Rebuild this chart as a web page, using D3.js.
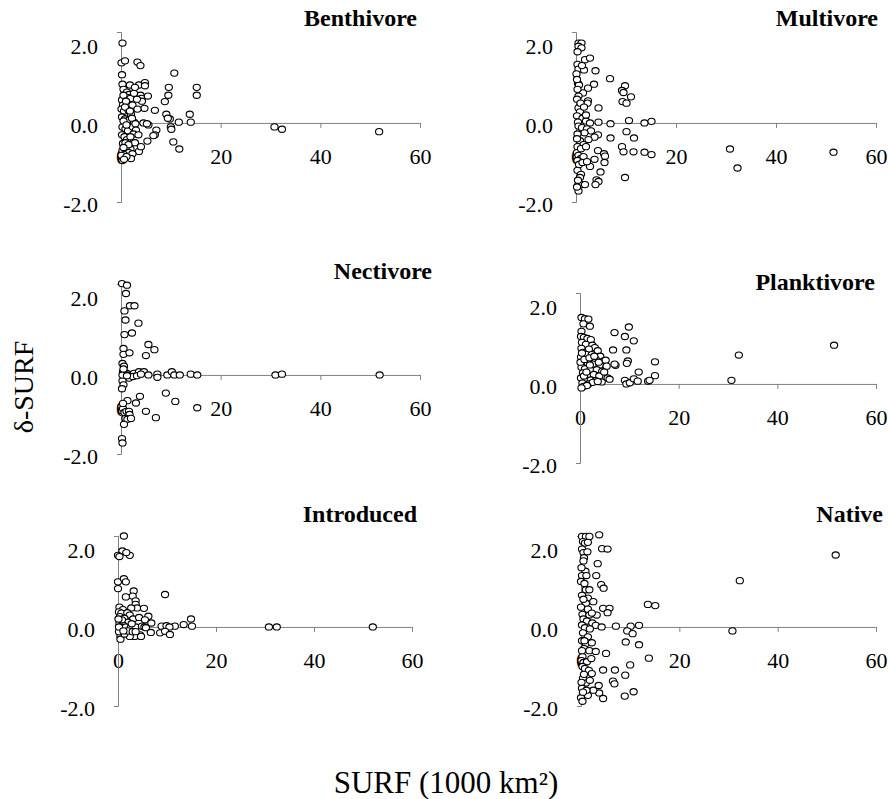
<!DOCTYPE html>
<html>
<head>
<meta charset="utf-8">
<script src="https://cdn.jsdelivr.net/npm/d3@7"></script>
<style>
  body { margin: 0; background: #fff; }
  text { font-family: "Liberation Serif", "Times New Roman", serif; }
</style>
</head>
<body>
<script>
var width = 888,
    height = 799;

var titles = ["Benthivore", "Multivore", "Nectivore", "Planktivore", "Introduced", "Native"];
var xTicks = [0, 20, 40, 60];
var yTicks = [-2, 0, 2];

// [SURF, delta-SURF]
var benthivore = [[0.3,2.02],[0.1,1.52],[0.8,1.57],[3.3,1.54],[3.9,1.45],[0.2,1.22],[10.7,1.26],
  [0.3,0.98],[1.8,0.96],[3.6,0.96],[4.8,1.02],[4.8,0.94],[9.6,0.9],[15.2,0.9],[15.2,0.7],[9.5,0.7],
  [0.5,0.85],[1.2,0.78],[1.6,0.72],[1.5,0.64],[1.9,0.62],[3.9,0.7],[4.1,0.62],[5.4,0.68],[4.2,0.55],[3.2,0.6],
  [8.8,0.54],[0.2,0.58],[0.4,0.45],[1.4,0.48],[2.3,0.45],[0.1,0.35],[0.6,0.3],[1.5,0.32],[2.0,0.22],
  [6.8,0.32],[4.7,0.37],[9.1,0.22],[13.8,0.22],[9.8,0.1],[9.4,0.12],[11.6,0.02],[14.0,0.02],
  [0.2,0.15],[0.8,0.1],[1.7,0.08],[2.6,0.02],[4.5,0.0],[5.5,-0.05],[5.2,-0.02],
  [10.0,-0.1],[10.1,-0.16],[7.1,-0.18],[6.8,-0.3],[6.5,-0.32],[5.3,-0.46],[10.5,-0.48],[11.7,-0.66],
  [2.8,-0.5],[3.6,-0.72],[1.9,-0.66],[0.3,-0.1],[0.9,-0.15],[1.4,-0.2],[2.4,-0.1],[3.0,-0.18],[2.5,-0.28],
  [0.2,-0.3],[0.7,-0.35],[1.2,-0.42],[0.4,-0.52],[1.0,-0.6],[0.3,-0.7],[1.6,-0.75],[0.6,-0.8],
  [0.2,-0.88],[0.3,-0.95],[0.1,-0.82],[2.3,-0.78],
  [0.5,0.7],[1.0,0.55],[0.8,0.4],[1.8,0.3],[2.2,0.12],[0.5,0.05],[1.1,-0.05],[1.9,-0.35],[0.9,-0.5],
  [1.5,-0.55],[0.5,-0.62],[2.0,-0.9],[1.1,-0.85],[0.6,-0.92],[2.6,0.75],[2.8,0.9],[3.3,0.35],[2.9,-0.02],
  [3.5,-0.3],[4.0,-0.6],
  [30.8,-0.1],[32.3,-0.16],[51.8,-0.22]];

var multivore = [[0.5,2.02],[1.1,2.02],[0.5,1.94],[1.1,1.9],[0.3,1.8],[1.8,1.6],[2.8,1.64],[0.3,1.48],
  [0.5,1.36],[1.6,1.34],[3.9,1.32],[6.8,1.12],[0.1,1.24],
  [0.4,1.0],[0.6,0.96],[3.6,0.98],[9.8,0.94],[9.2,0.82],[9.5,0.77],[11.0,0.66],[2.4,0.88],[1.4,0.76],
  [0.5,0.68],[2.4,0.56],[2.3,0.5],[9.3,0.54],[10.1,0.5],
  [0.5,0.38],[4.5,0.38],[0.8,0.28],[0.2,0.18],[1.3,0.12],[2.0,0.05],[0.4,0.02],[2.8,0.0],[4.5,0.02],
  [6.9,-0.02],[10.6,0.06],[13.7,0.0],[15.1,0.04],
  [0.5,-0.08],[1.2,-0.12],[2.2,-0.15],[3.0,-0.2],[1.7,-0.25],[0.3,-0.28],[4.4,-0.3],[6.9,-0.38],
  [10.1,-0.22],[11.6,-0.38],[3.7,-0.36],[2.5,-0.42],[0.8,-0.45],[1.5,-0.55],[0.3,-0.6],
  [9.2,-0.6],[9.5,-0.73],[11.5,-0.73],[13.7,-0.74],[15.1,-0.8],[4.4,-0.7],[5.6,-0.78],[5.8,-0.84],
  [5.7,-1.0],[3.7,-0.92],[2.8,-1.1],[4.9,-1.24],[4.1,-1.44],[4.5,-1.48],[3.9,-1.56],[9.8,-1.38],
  [0.2,-0.75],[0.5,-0.82],[1.0,-0.9],[0.3,-0.95],[1.5,-0.85],[0.6,-1.05],[0.3,-1.2],[1.0,-1.3],
  [0.8,-1.38],[0.5,-1.56],[1.1,-1.56],[1.8,-1.56],[0.5,-1.72],[0.2,-1.62],
  [0.2,0.6],[0.9,0.5],[0.3,0.85],[1.6,0.4],[0.2,-0.4],[1.0,-0.65],[2.0,-0.6],[0.4,-1.45],[0.2,1.1],
  [1.2,1.45],[2.0,0.2],[1.3,-1.0],[2.2,-0.98],
  [30.8,-0.66],[32.3,-1.14],[51.5,-0.74]];

var nectivore = [[0.2,2.31],[1.2,2.27],[1.0,2.06],[1.8,1.75],[2.7,1.75],[0.7,1.62],[0.9,1.39],[3.5,1.31],
  [0.7,1.02],[2.2,1.06],[5.5,0.77],[6.7,0.64],[5.0,0.49],[0.5,0.67],[0.5,0.52],[1.7,0.56],[0.3,0.29],[0.6,0.22],
  [0.4,0.08],[1.0,0.05],[1.5,0.02],[2.0,0.0],[2.6,0.04],[3.6,0.08],[4.6,0.08],[5.5,0.0],[7.3,0.02],
  [7.3,-0.06],[9.3,0.0],[10.2,0.08],[10.7,0.0],[11.8,0.0],[14.0,0.02],[15.3,0.0],
  [0.8,-0.06],[1.6,-0.08],[2.4,-0.04],[3.2,-0.02],[4.0,0.02],[0.3,-0.15],[0.5,-0.25],[0.2,-0.35],
  [9.0,-0.46],[10.9,-0.67],[15.3,-0.83],[3.8,-0.54],[3.0,-0.71],[5.0,-0.92],[7.0,-1.08],[1.3,-0.65],
  [0.1,-0.8],[0.2,-0.9],[0.4,-0.85],[0.7,-0.95],[1.1,-0.92],[1.6,-0.92],[1.7,-1.0],[0.9,-1.1],
  [1.3,-1.12],[2.0,-1.1],[0.6,-1.25],[0.2,-1.61],[0.3,-1.72],[0.4,-0.72],
  [0.3,0.0],[1.2,-0.02],[0.5,0.15],
  [31.0,0.0],[32.3,0.02],[51.9,0.0]];

var planktivore = [[0.3,1.68],[1.0,1.65],[1.7,1.64],[0.7,1.52],[2.0,1.46],[0.3,1.33],[7.0,1.3],[9.9,1.44],
  [9.1,1.2],[10.9,1.09],[6.7,0.86],[9.4,0.86],[9.7,0.58],[9.5,0.52],[7.2,0.47],[7.0,0.5],
  [11.9,0.3],[15.2,0.56],[15.2,0.21],[9.1,0.09],[9.4,0.0],[10.1,0.03],[10.9,0.13],[11.7,0.07],[13.8,0.07],[14.1,0.09],
  [0.2,1.2],[0.8,1.18],[1.5,1.15],[2.2,1.12],[0.4,1.05],[1.2,1.0],[2.5,0.98],[3.0,0.92],[0.3,0.9],
  [1.8,0.88],[3.6,0.84],[0.6,0.8],[1.2,0.75],[2.4,0.74],[4.1,0.7],[0.2,0.68],[3.2,0.62],[4.8,0.58],[5.2,0.6],
  [0.5,0.55],[1.6,0.52],[2.6,0.5],[4.0,0.48],[5.4,0.45],[0.3,0.42],[1.0,0.38],[2.1,0.35],[3.4,0.36],
  [4.5,0.32],[0.6,0.28],[1.5,0.22],[2.8,0.24],[3.9,0.2],[5.6,0.15],[6.0,0.12],[0.2,0.15],[1.2,0.1],
  [2.2,0.1],[3.2,0.08],[4.4,0.05],[0.5,0.02],[1.7,0.0],[2.6,0.04],[3.6,0.06],[0.7,-0.06],[1.4,-0.04],[0.3,-0.1],
  [0.1,0.55],[0.9,0.62],[1.9,0.66],[2.9,0.7],[0.4,0.78],[3.8,0.55],[4.9,0.3],[0.8,0.2],[2.0,0.48],[1.3,0.3],
  [30.7,0.09],[32.2,0.73],[51.5,0.98]];

var introduced = [[1.2,2.3],[0.9,1.92],[0.0,1.81],[0.3,1.78],[2.4,1.81],[1.7,1.88],[0.0,1.14],[1.2,1.22],
  [1.6,1.14],[0.0,0.97],[3.2,0.91],[3.0,0.78],[1.6,0.76],[3.6,0.66],[3.6,0.57],[9.6,0.82],
  [3.9,0.48],[5.3,0.47],[2.7,0.48],[0.3,0.5],[1.0,0.44],[0.2,0.38],[0.7,0.35],[1.9,0.36],[2.4,0.3],
  [0.4,0.26],[1.3,0.22],[3.1,0.2],[4.3,0.24],[6.2,0.27],[5.5,0.18],[6.8,0.1],[2.0,0.12],[0.3,0.1],[1.0,0.05],
  [14.9,0.2],[13.4,0.06],[15.1,0.02],[8.9,0.02],[9.9,0.03],[11.6,0.02],[10.5,0.0],[0.5,0.0],[1.6,0.0],
  [2.6,-0.02],[3.6,0.0],[4.9,0.02],[5.4,0.0],[5.7,-0.02],
  [8.6,-0.15],[9.6,-0.11],[10.6,-0.19],[6.7,-0.14],[4.5,-0.2],[3.4,-0.24],[2.4,-0.24],[4.7,-0.24],
  [0.5,-0.24],[0.5,-0.31],[1.3,-0.18],[0.2,-0.12],[2.0,-0.1],[3.0,-0.12],
  [0.2,0.0],[1.1,-0.1],[0.8,0.18],[2.8,0.08],[3.6,-0.12],[0.1,0.2],
  [30.8,0.0],[32.4,0.0],[52.0,0.0]];

var native = [[0.2,2.29],[1.0,2.29],[1.7,2.29],[3.7,2.33],[0.4,2.16],[0.8,2.12],[1.4,2.14],[0.2,1.97],
  [0.5,1.88],[4.3,1.98],[5.4,1.97],[0.6,1.75],[0.5,1.67],[3.4,1.6],[0.9,1.41],[0.2,1.3],[1.1,1.3],
  [3.1,1.3],[0.0,1.15],[4.1,1.07],[4.6,0.98],[1.0,0.94],[1.7,0.94],
  [1.4,0.73],[1.0,0.6],[2.5,0.64],[13.6,0.57],[15.1,0.54],[0.0,0.5],[4.5,0.47],[5.8,0.47],[5.4,0.36],
  [0.3,0.32],[1.7,0.3],[3.2,0.3],[0.5,0.2],[1.2,0.15],[2.3,0.1],[3.0,0.04],[0.2,0.05],[0.8,-0.02],
  [1.8,-0.05],[4.2,0.0],[7.1,0.02],[10.1,0.02],[11.8,0.04],
  [9.4,-0.1],[10.5,-0.17],[0.4,-0.15],[1.4,-0.25],[0.2,-0.35],[1.0,-0.42],[2.2,-0.4],[0.6,-0.55],
  [1.7,-0.6],[3.0,-0.62],[9.1,-0.38],[11.8,-0.45],[5.1,-0.67],[13.8,-0.79],
  [0.3,-0.75],[0.1,-0.85],[0.5,-0.9],[1.2,-0.88],[2.1,-0.8],[0.3,-1.0],[0.8,-1.05],[1.6,-1.1],
  [10.0,-0.96],[4.5,-1.09],[6.9,-1.09],[9.0,-1.22],[6.5,-1.37],[6.8,-1.44],[2.2,-1.18],[3.6,-1.48],
  [3.7,-1.67],[4.5,-1.81],[8.9,-1.75],[10.7,-1.64],
  [0.0,-1.79],[0.3,-1.88],[1.4,-1.73],[0.4,-1.3],[1.0,-1.42],[0.2,-1.55],[2.5,-1.6],[1.8,-1.35],
  [0.2,0.8],[0.5,0.7],[0.1,1.5],[1.3,1.9],[0.2,-0.6],[0.6,-1.2],[0.1,-1.4],[1.1,-1.6],[0.7,-0.35],
  [1.4,0.45],[2.2,0.35],[0.7,1.1],[0.4,-1.65],
  [30.8,-0.1],[32.3,1.17],[51.8,1.82]];

var series = [benthivore, multivore, nectivore, planktivore, introduced, native];

// panel boxes: x of 0, x of 60, top, bottom, title x, title y
var boxes = [
  [121, 420, 32, 202, 417, 26],
  [576, 876, 32, 202, 878, 26],
  [121, 420, 284, 454, 432, 279],
  [580, 876, 293, 463, 875, 290],
  [118, 412, 536, 706, 417, 522],
  [581, 876, 536, 706, 883, 522]
];

var axisColor = '#808080';

var svg = d3.select('body')
    .append('svg')
    .attr('width', width)
    .attr('height', height);

series.forEach(function(data, i) {
  var b = boxes[i];
  var x = d3.scaleLinear().domain([0, 60]).range([b[0], b[1]]);
  var y = d3.scaleLinear().domain([-2, 2.3]).range([b[3], b[2]]);

  var g = svg.append('g').attr('class', 'panel');

  var xAxis = g.append('g')
      .attr('transform', 'translate(0,' + y(0) + ')')
      .attr('color', axisColor)
      .call(d3.axisBottom(x).tickValues(xTicks).tickSize(5).tickSizeOuter(0).tickPadding(20));
  xAxis.selectAll('text')
      .attr('fill', '#000')
      .style('font-size', '22px');

  var yAxis = g.append('g')
      .attr('transform', 'translate(' + x(0) + ',0)')
      .attr('color', axisColor)
      .call(d3.axisLeft(y).tickValues(yTicks).tickSizeInner(0).tickSizeOuter(4).tickPadding(23)
        .tickFormat(function(d) { return d.toFixed(1); }));
  yAxis.selectAll('text')
      .attr('fill', '#000')
      .attr('dy', '0.45em')
      .style('font-size', '22px');

  g.selectAll('ellipse')
      .data(data)
      .enter().append('ellipse')
      .attr('cx', function(d) { return x(d[0]); })
      .attr('cy', function(d) { return y(d[1]); })
      .attr('rx', 3.6)
      .attr('ry', 3.1)
      .attr('fill', '#fff')
      .attr('stroke', '#000')
      .attr('stroke-width', 1.1);

  g.append('text')
      .attr('x', b[4])
      .attr('y', b[5])
      .attr('text-anchor', 'end')
      .style('font-size', '24px')
      .style('font-weight', 'bold')
      .text(titles[i]);
});

svg.append('text')
    .attr('transform', 'translate(33,387) rotate(-90)')
    .attr('text-anchor', 'middle')
    .style('font-size', '28px')
    .text('δ-SURF');

svg.append('text')
    .attr('x', 446)
    .attr('y', 793)
    .attr('text-anchor', 'middle')
    .style('font-size', '31px')
    .text('SURF (1000 km²)');
</script>
</body>
</html>
